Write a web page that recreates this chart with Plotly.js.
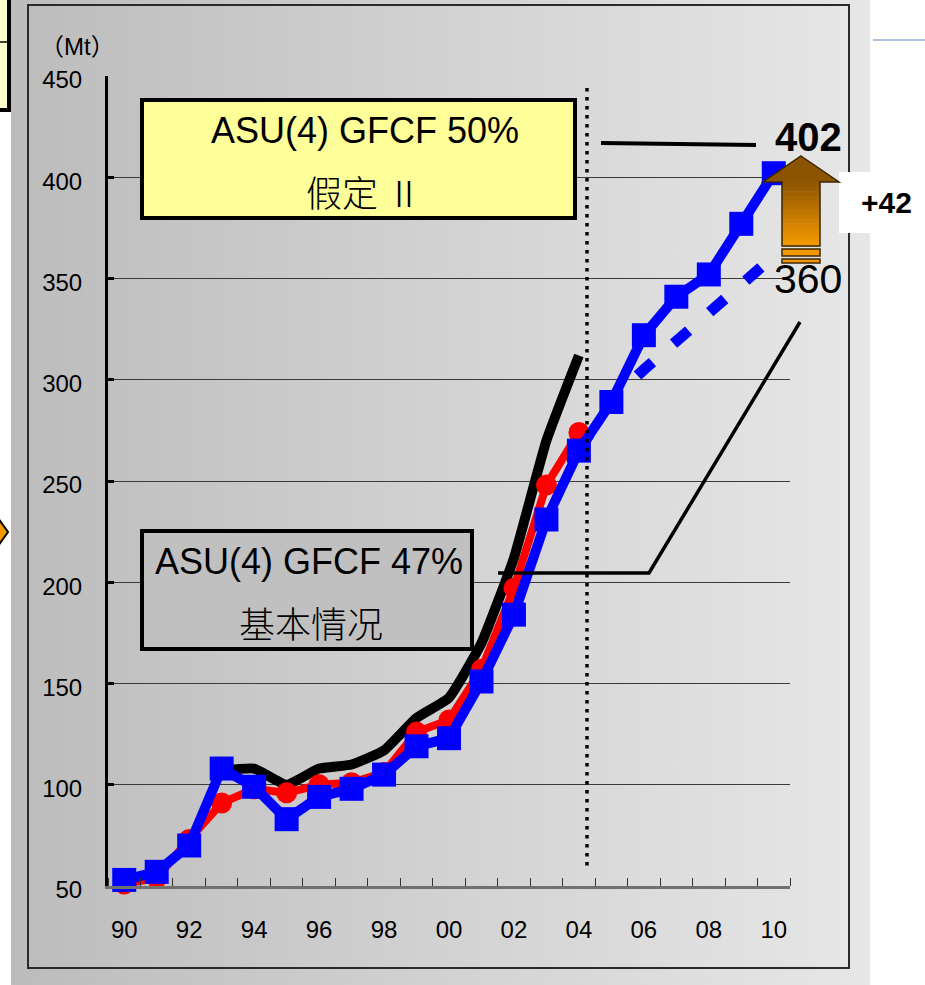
<!DOCTYPE html>
<html>
<head>
<meta charset="utf-8">
<script src="https://cdn.plot.ly/plotly-3.0.1.min.js"></script>
<style>
  html, body { margin: 0; padding: 0; background: #ffffff; overflow: hidden; }
  #bg { position: absolute; left: 11px; top: 0; width: 859px; height: 985px;
        background: linear-gradient(to right, #bcbcbc 0%, #d4d4d4 55%, #e7e7e7 100%); }
  #chart { position: absolute; left: 0; top: 0; width: 925px; height: 985px; }
</style>
</head>
<body>
<div id="bg"></div>
<div id="chart"></div>
<script>
// ---- data ----
const years = [1990, 1991, 1992, 1993, 1994, 1995, 1996, 1997, 1998, 1999, 2000,
               2001, 2002, 2003, 2004, 2005, 2006, 2007, 2008, 2009, 2010];
const tickYears  = [1990, 1992, 1994, 1996, 1998, 2000, 2002, 2004, 2006, 2008, 2010];
const tickLabels = ['90', '92', '94', '96', '98', '00', '02', '04', '06', '08', '10'];
// ASU(4) GFCF 50% (assumption II) - blue squares
const gfcf50 = [53, 57, 70, 108, 99, 83, 94, 98, 105, 119, 123,
                151, 184, 231, 265, 289, 322, 341, 352, 377, 402];
// ASU(4) GFCF 47% (base case) - blue dashed projection
const gfcf47 = [null, null, null, null, null, null, null, null, null, null, null,
                null, null, null, 265, 290, 305, 319, 334, 348, 361];
// red circles
const redSeries = [51, 54, 73, 91, 98, 96, 100, 101, 106, 126, 132,
                   157, 197, 248, 274, null, null, null, null, null, null];
// black line
const blackSeries = [null, null, null, 107, 108, 100, 108, 110, 117, 133, 143,
                     170, 212, 270, 312, null, null, null, null, null, null];
const yTicks = [50, 100, 150, 200, 250, 300, 350, 400, 450];

// ---- pixel helpers for decorations (plot area 108..790 x 76..886) ----
const L = 108, R = 790, T = 76, B = 886;
const PX = x => (x - L) / (R - L);
const PY = y => (B - y) / (B - T);

const traces = [
  { x: years, y: gfcf47, mode: 'lines', cliponaxis: false, hoverinfo: 'skip',
    line: { color: '#0000ff', width: 11, dash: '20px,28px' } },
  { x: years, y: blackSeries, mode: 'lines', cliponaxis: false, hoverinfo: 'skip',
    line: { color: '#000000', width: 10, shape: 'spline', smoothing: 0.4 } },
  { x: years, y: redSeries, mode: 'lines+markers', cliponaxis: false,
    line: { color: '#ff0000', width: 8 },
    marker: { symbol: 'circle', size: 21, color: '#ff0000' } },
  { x: years, y: gfcf50, mode: 'lines+markers', cliponaxis: false,
    line: { color: '#0000ff', width: 10 },
    marker: { symbol: 'square', size: 24, color: '#0000ff' } }
];

const font = 'Liberation Sans, Arial, sans-serif';
const cjk = 'Noto Sans CJK SC, Liberation Sans, sans-serif';

function rectPx(x0, y0, x1, y1, opts) {
  return Object.assign({ type: 'rect', xref: 'paper', yref: 'paper',
    x0: PX(x0), x1: PX(x1), y0: PY(y1), y1: PY(y0), layer: 'above' }, opts);
}
function pathPx(pts, opts) {
  const d = pts.map((p, i) => (i ? 'L' : 'M') + PX(p[0]).toFixed(5) + ',' + PY(p[1]).toFixed(5)).join(' ') + (opts.close ? ' Z' : '');
  const o = Object.assign({ type: 'path', xref: 'paper', yref: 'paper', path: d, layer: 'above' }, opts);
  delete o.close;
  return o;
}

const shapes = [];
// outer frame
shapes.push(rectPx(28, 5, 849, 968, { layer: 'below', line: { color: '#2a2a2a', width: 2 }, fillcolor: 'rgba(0,0,0,0)' }));
// left-edge fragments of neighbouring slide objects
shapes.push(rectPx(-10, -10, 9, 110, { line: { color: '#000', width: 4 }, fillcolor: '#ffffcc' }));
shapes.push(pathPx([[-10, 42], [9, 42]], { line: { color: '#000', width: 1.5 } }));
shapes.push(pathPx([[-12, 504], [8, 532], [-12, 560]], { close: true, line: { color: '#000', width: 2 }, fillcolor: '#f39800' }));
// top-right light blue rule
shapes.push(pathPx([[873, 40], [930, 40]], { line: { color: '#a9c3dd', width: 2 } }));
// annotation boxes
shapes.push(rectPx(142, 100, 575, 218, { line: { color: '#000', width: 4 }, fillcolor: '#ffff99' }));
shapes.push(rectPx(142, 531, 472, 649, { line: { color: '#000', width: 4 }, fillcolor: '#c0c0c0' }));
// connectors
shapes.push(pathPx([[601, 143], [756, 145]], { line: { color: '#000', width: 4 } }));
shapes.push(pathPx([[498, 573], [649, 573], [800, 322]], { line: { color: '#000', width: 3.5 } }));
// dotted separator
shapes.push(pathPx([[587, 88], [587, 866]], { line: { color: '#000', width: 3.5, dash: '3.5px,5.5px' } }));
// white label box for +42
shapes.push(rectPx(839, 172, 935, 233, { line: { width: 0 }, fillcolor: '#ffffff' }));
// arrow (gradient by bands)
const shaftTop = 182, shaftBot = 246, nb = 14;
const c0 = [140, 84, 0], c1 = [246, 154, 0];
for (let i = 0; i < nb; i++) {
  const t = (i + 0.5) / nb;
  const c = c0.map((v, k) => Math.round(v + (c1[k] - v) * t));
  const ya = shaftTop + (shaftBot - shaftTop) * i / nb;
  const yb = shaftTop + (shaftBot - shaftTop) * (i + 1) / nb + 0.6;
  shapes.push(rectPx(782, ya, 820, yb, { line: { width: 0 }, fillcolor: 'rgb(' + c.join(',') + ')' }));
}
shapes.push(pathPx([[801, 156], [839, 182], [763, 182]], { close: true, line: { width: 0 }, fillcolor: '#8c5400' }));
shapes.push(pathPx([[801, 156], [839, 182], [820, 182], [820, 246], [782, 246], [782, 182], [763, 182]],
  { close: true, line: { color: '#3a2600', width: 1.5 }, fillcolor: 'rgba(0,0,0,0)' }));
shapes.push(rectPx(782, 249, 820, 256, { line: { color: '#3a2600', width: 1.5 }, fillcolor: '#f39800' }));
shapes.push(rectPx(782, 259, 820, 263, { line: { color: '#3a2600', width: 1.5 }, fillcolor: '#f39800' }));

function ann(text, x, y, size, opts) {
  return Object.assign({ text: text, xref: 'paper', yref: 'paper', x: PX(x), y: PY(y),
    xanchor: 'center', yanchor: 'middle', showarrow: false,
    font: { family: font, size: size, color: '#000' } }, opts || {});
}
const annotations = [
  ann('（Mt）', 77, 46, 24, { font: { family: 'Liberation Sans, Noto Sans CJK SC, sans-serif', size: 24, color: '#000' } }),
  ann('ASU(4) GFCF 50%', 365, 131, 36),
  ann('假定 Ⅱ', 364, 191, 36, { font: { family: cjk, size: 36, color: '#000', weight: 300 } }),
  ann('ASU(4) GFCF 47%', 309, 561, 36),
  ann('基本情况', 311, 622, 36, { font: { family: cjk, size: 36, color: '#000', weight: 300 } }),
  ann('<b>402</b>', 808, 137, 40),
  ann('360', 808, 279, 41),
  ann('<b>+42</b>', 886, 202, 30)
];

const layout = {
  width: 925, height: 985,
  margin: { l: L, r: 925 - R, t: T, b: 985 - B, pad: 0 },
  paper_bgcolor: 'rgba(0,0,0,0)',
  plot_bgcolor: 'rgba(0,0,0,0)',
  showlegend: false,
  font: { family: font, color: '#000', size: 24 },
  xaxis: {
    type: 'linear', range: [1989.5, 2010.5], fixedrange: true,
    tickmode: 'array', tickvals: tickYears, ticktext: tickLabels,
    ticks: '', showgrid: false, zeroline: false,
    showline: true, linecolor: '#707070', linewidth: 3,
    tickfont: { family: font, size: 24, color: '#000' },
    ticklabelstandoff: 20,
    minor: { tickmode: 'linear', tick0: 1989.5, dtick: 1, ticks: 'inside', ticklen: 8,
             tickwidth: 1, tickcolor: '#333', showgrid: false }
  },
  yaxis: {
    range: [50, 450], fixedrange: true,
    tickmode: 'array', tickvals: yTicks,
    ticks: 'inside', ticklen: 6, tickwidth: 3, tickcolor: '#000',
    showgrid: true, gridcolor: '#3a3a3a', gridwidth: 1, zeroline: false,
    showline: true, linecolor: '#000', linewidth: 3,
    tickfont: { family: font, size: 24, color: '#000' },
    ticklabelstandoff: 18, ticklabelshift: 4
  },
  shapes: shapes,
  annotations: annotations
};

Plotly.newPlot('chart', traces, layout, { staticPlot: true, displayModeBar: false });
</script>
</body>
</html>
